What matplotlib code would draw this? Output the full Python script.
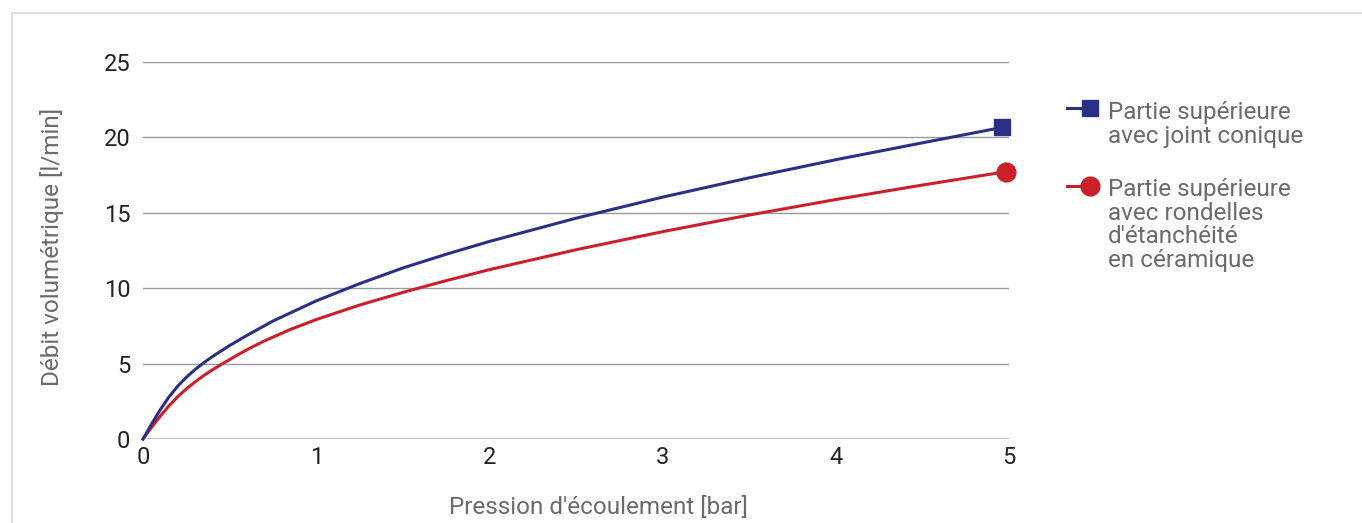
import matplotlib
matplotlib.use("Agg")
import matplotlib.pyplot as plt
from matplotlib.lines import Line2D

plt.rcParams['font.family'] = ['Roboto', 'DejaVu Sans']

# ---------- data ----------
pression_bleu = [0, 0.05, 0.1, 0.15, 0.2, 0.25, 0.3, 0.35, 0.4, 0.5, 0.6, 0.75,
                 1.0, 1.25, 1.5, 1.75, 2.0, 2.5, 3.0, 3.5, 4.0, 4.5, 4.96]
debit_bleu = [0, 1.0, 1.95, 2.79, 3.50, 4.09, 4.60, 5.05, 5.46, 6.20, 6.87, 7.82,
              9.16, 10.30, 11.34, 12.25, 13.10, 14.64, 16.04, 17.32, 18.52, 19.64, 20.66]

pression_rouge = [0, 0.05, 0.1, 0.15, 0.2, 0.25, 0.3, 0.35, 0.4, 0.46, 0.55, 0.62,
                  0.7, 0.85, 1.0, 1.25, 1.5, 1.75, 2.0, 2.5, 3.0, 3.5, 4.0, 4.5, 4.98]
debit_rouge = [0, 0.78, 1.52, 2.2, 2.8, 3.32, 3.78, 4.2, 4.58, 5.0, 5.6, 6.04,
               6.5, 7.26, 7.92, 8.88, 9.72, 10.50, 11.23, 12.55, 13.75, 14.85, 15.88, 16.84, 17.72]

x_ticks = [0, 1, 2, 3, 4, 5]
y_ticks = [0, 5, 10, 15, 20, 25]
label_bleu = "Partie supérieure\navec joint conique"
label_rouge = "Partie supérieure\navec rondelles\nd'étanchéité\nen céramique"

BLEU = '#2b3087'
ROUGE = '#cc1f2a'
GRIS_TXT = '#6b6b6b'

fig = plt.figure(figsize=(13.62, 5.23), dpi=100)
W, H = 1362, 523
ax = fig.add_axes([143 / W, 1 - 439 / H, (1009 - 143) / W, (439 - 62) / H])

# ---------- curves ----------
ax.plot(pression_bleu, debit_bleu, color=BLEU, lw=2.2, marker='s', ms=12,
        markevery=[-1], zorder=4, clip_on=False)
ax.plot(pression_rouge, debit_rouge, color=ROUGE, lw=2.2, marker='o', ms=13.5,
        markevery=[-1], zorder=3, clip_on=False)

ax.set_xlim(0, 5)
ax.set_ylim(0, 25)
ax.set_xticks(x_ticks)
ax.set_yticks(y_ticks)
ax.tick_params(length=0, labelsize=17, labelcolor='#222222')
ax.tick_params(axis='y', pad=9)
ax.tick_params(axis='x', pad=5)
for s in ax.spines.values():
    s.set_visible(False)
ax.grid(axis='y', color='#9a9a9a', lw=1.0)
ax.grid(axis='x', visible=False)
ax.axhline(0, color='#c4c4c4', lw=2.2, zorder=2)
ax.set_axisbelow(True)

fig.text(52 / W, 1 - 247 / H, "Débit volumétrique [l/min]", fontsize=17.5,
         color=GRIS_TXT, rotation=90, ha='center', va='center')
fig.text(598 / W, 1 - 508 / H, "Pression d'écoulement [bar]", fontsize=17.5,
         color=GRIS_TXT, ha='center', va='center')

# ---------- legend (drawn by hand) ----------
# base_px = baseline of the LAST line of the text
def legend_item(y_px, base_px, color, marker, ms, text):
    yf = 1 - y_px / H
    fig.add_artist(Line2D([1067 / W, 1090 / W], [yf, yf], color=color, lw=2.2,
                          transform=fig.transFigure))
    fig.add_artist(Line2D([1090 / W], [yf], color=color, marker=marker, ms=ms,
                          transform=fig.transFigure))
    fig.text(1108 / W, 1 - base_px / H, text, fontsize=17.5, color=GRIS_TXT,
             ha='left', va='baseline', linespacing=1.03)

legend_item(108, 143, BLEU, 's', 12, label_bleu)
legend_item(186, 267, ROUGE, 'o', 13.5, label_rouge)

# ---------- card border (top and left) ----------
fig.add_artist(Line2D([12 / W, 1], [1 - 13 / H, 1 - 13 / H], color='#dedede', lw=1.5,
                      transform=fig.transFigure))
fig.add_artist(Line2D([12 / W, 12 / W], [0, 1 - 13 / H], color='#dedede', lw=1.5,
                      transform=fig.transFigure))

fig.savefig("out.png", dpi=100)
